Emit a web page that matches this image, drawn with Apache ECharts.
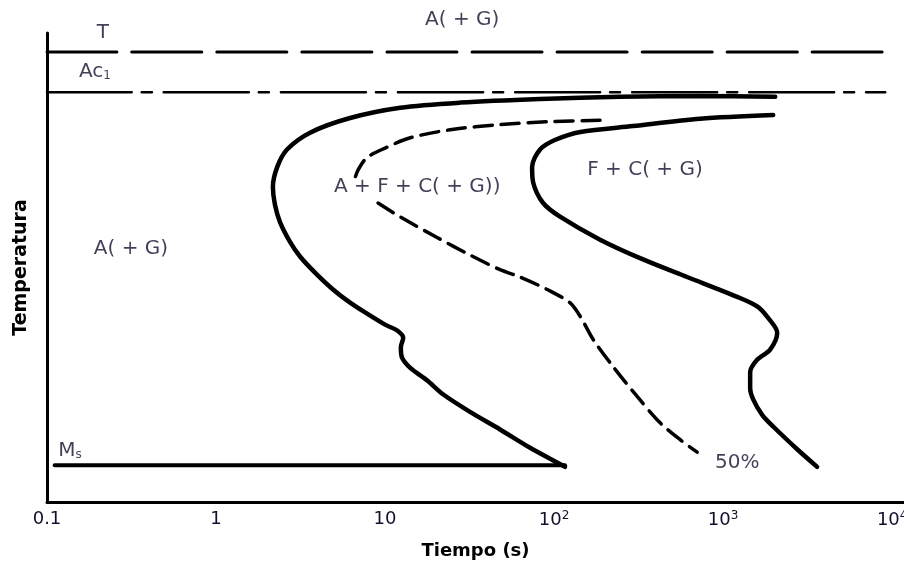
<!DOCTYPE html>
<html>
<head>
<meta charset="utf-8">
<script src="https://cdn.jsdelivr.net/npm/echarts@6/dist/echarts.min.js"></script>
<style>
  html, body { margin: 0; padding: 0; background: #fff; }
  #main { width: 904px; height: 576px; }
</style>
</head>
<body>
<div id="main"></div>
<script>
// curvas del diagrama TTT: [tiempo (s), temperatura]
var inicioCurva = [[2032,723],[731,724],[246,723],[82.6,720],[27.8,715],[12.3,708],[6.21,694],[3.60,674],[2.63,651],[2.30,627],[2.17,600],[2.23,576],[2.39,552],[2.74,525],[3.14,505],[3.85,483],[4.92,460],[6.21,442],[7.82,427],[10.0,412],[11.8,404],[12.8,394],[12.4,381],[12.6,367],[14.1,353],[17.7,336],[22.0,317],[31.8,293],[47.9,269],[72.1,244],[94.7,229],[116,218]];
var medioArriba = [[187,691],[94.7,689],[47.9,685],[24.3,678],[14.1,667],[10.0,653],[7.82,640],[6.92,623],[6.64,612]];
var medioAbajo = [[9.09,578],[12.3,559],[20.3,531],[31.8,507],[47.9,487],[62.9,477],[91.0,460],[124,442],[143,423],[170,392],[223,355],[310,314],[424,278],[557,255],[702,238]];
var finCurva = [[1977,698],[731,693],[293,683],[143,675],[101,664],[82.6,651],[74.1,627],[75.2,606],[86.1,578],[109,559],[187,528],[336,501],[612,477],[1211,450],[1589,437],[1820,423],[2089,401],[1897,378],[1589,364],[1445,347],[1445,326],[1506,310],[1702,289],[1977,273],[2742,242],[3597,218]];
var lineaMs = [[0.111,220],[116,220]];
var lineaT = [[0.1,784],[9100,784]];
var lineaAc1 = [[0.1,729],[9100,729]];

// etiquetas de ticks (exponente -1 .. 4)
var etiquetasX = ['0.1', '1', '10', '10{sup|2}', '10{sup|3}', '10{sup|4}'];

// textos dentro del diagrama
var textos = ['T', 'Ac{sub|1}', 'A( + G)', 'A( + G)', 'A + F + C( + G))', 'F + C( + G)', 'M{sub|s}', '50%'];
var textoTiempo = [0.214, 0.192, 28.6, 0.314, 15.5, 345, 0.137, 1211];
var textoTemp = [810, 757, 828, 516, 600, 623, 240, 224];

var myChart = echarts.init(document.getElementById('main'));

var colorTexto = '#10102e';
var fuente = 'DejaVu Sans';

function linea(data, ancho, tipo) {
  return {
    type: 'line',
    data: data,
    showSymbol: false,
    smooth: 0.3,
    lineStyle: { color: '#000', width: ancho, type: tipo, cap: 'round' },
    silent: true
  };
}

var anotaciones = [];
for (var i = 0; i < textos.length; i++) {
  anotaciones.push({
    value: [textoTiempo[i], textoTemp[i]],
    label: { formatter: textos[i] }
  });
}

option = {
  backgroundColor: '#fff',
  animation: false,
  grid: { left: 47, right: 0, top: 33, bottom: 74, outerBoundsMode: 'none' },
  xAxis: {
    type: 'log',
    logBase: 10,
    min: 0.1,
    max: 11750,
    splitNumber: 5,
    name: 'Tiempo (s)',
    nameLocation: 'middle',
    nameGap: 40,
    nameTextStyle: { fontFamily: fuente, fontWeight: 'bold', fontSize: 18, color: '#000' },
    axisLine: { lineStyle: { color: '#000', width: 3 } },
    axisTick: { show: false },
    splitLine: { show: false },
    axisLabel: {
      color: colorTexto,
      fontFamily: fuente,
      fontSize: 18,
      margin: 8,
      formatter: function (v) {
        var l = Math.log10(v);
        var e = Math.round(l);
        if (Math.abs(l - e) > 0.01) return '';
        return etiquetasX[e + 1] || '';
      },
      rich: {
        sup: { fontSize: 12, fontFamily: fuente, color: colorTexto, padding: [0, 0, 9, 0] }
      }
    }
  },
  yAxis: {
    type: 'value',
    min: 170,
    max: 810,
    name: 'Temperatura',
    nameLocation: 'middle',
    nameGap: 16,
    nameTextStyle: { fontFamily: fuente, fontWeight: 'bold', fontSize: 19, color: '#000' },
    axisLine: { show: true, lineStyle: { color: '#000', width: 3 } },
    axisTick: { show: false },
    axisLabel: { show: false },
    splitLine: { show: false }
  },
  series: [
    linea(lineaT, 3, [70, 15]),
    linea(lineaAc1, 2.5, [85, 10, 10, 12]),
    linea(lineaMs, 4, 'solid'),
    linea(inicioCurva, 4.5, 'solid'),
    linea(medioArriba, 3.5, [18, 9]),
    linea(medioAbajo, 3.5, [18, 9]),
    linea(finCurva, 4.5, 'solid'),
    {
      type: 'scatter',
      symbolSize: 0,
      clip: false,
      silent: true,
      data: anotaciones,
      label: {
        show: true,
        position: 'inside',
        color: colorTexto,
        fontFamily: fuente,
        fontSize: 20,
        rich: {
          sub: { fontSize: 12, fontFamily: fuente, color: colorTexto, padding: [8, 0, 0, 0] }
        }
      }
    }
  ]
};

myChart.setOption(option);
</script>
</body>
</html>
